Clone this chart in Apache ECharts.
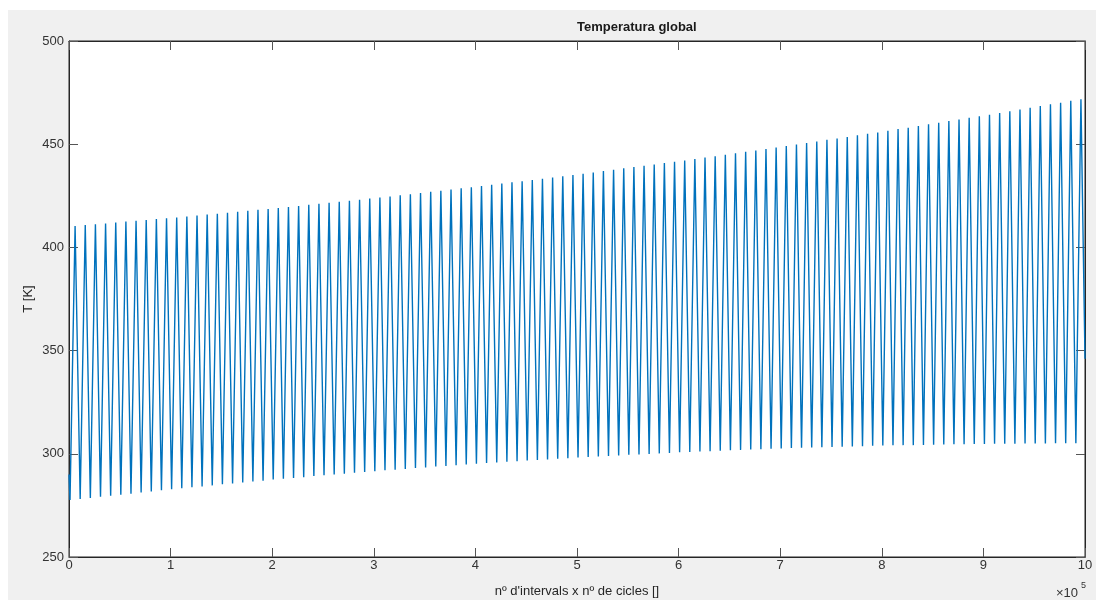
<!DOCTYPE html>
<html>
<head>
<meta charset="utf-8">
<title>Temperatura global</title>
<script src="https://cdn.jsdelivr.net/npm/echarts@6/dist/echarts.min.js"></script>
<style>
	html, body { margin: 0; padding: 0; background: #fff; }
	#wrap { position: relative; width: 1096px; height: 600px; overflow: hidden; }
	#fig { position: absolute; left: 8px; top: 10px; right: 0; bottom: 0; background: #f0f0f0; }
	#chartContainer { position: absolute; left: 0; top: 0; width: 1096px; height: 600px; }
</style>
</head>
<body>
<div id="wrap">
	<div id="fig"></div>
	<div id="chartContainer"></div>
</div>
<script>
// valors llegits de la figura (temperatura en K)
const period = 10000;        // mostres per cicle
const troughOffset = 1000;   // primer mínim
const peakOffset = 6000;     // primer màxim
const startValue = 290;
const endValue = 346;

// mínims de cada cicle
const troughs = [
	277.6, 278.1, 278.6, 279.2, 279.7, 280.2, 280.7, 281.3, 281.8, 282.3,
	282.8, 283.3, 283.8, 284.2, 284.7, 285.2, 285.6, 286.1, 286.6, 287.0,
	287.5, 287.9, 288.3, 288.7, 289.2, 289.6, 290.0, 290.4, 290.8, 291.2,
	291.6, 292.0, 292.3, 292.7, 293.1, 293.4, 293.8, 294.1, 294.5, 294.8,
	295.2, 295.5, 295.8, 296.1, 296.4, 296.7, 297.0, 297.3, 297.6, 297.9,
	298.2, 298.5, 298.7, 299.0, 299.2, 299.5, 299.7, 299.9, 300.2, 300.4,
	300.7, 300.9, 301.1, 301.3, 301.5, 301.7, 301.9, 302.1, 302.2, 302.4,
	302.6, 302.8, 302.9, 303.0, 303.2, 303.3, 303.4, 303.6, 303.7, 303.9,
	304.0, 304.1, 304.2, 304.2, 304.3, 304.4, 304.5, 304.6, 304.6, 304.7,
	304.8, 304.9, 304.9, 304.9, 305.0, 305.0, 305.0, 305.1, 305.1, 305.1
];

// màxims de cada cicle
const peaks = [
	410.4, 410.8, 411.2, 411.6, 412.0, 412.5, 412.9, 413.3, 413.7, 414.1,
	414.5, 415.0, 415.4, 415.9, 416.3, 416.8, 417.3, 417.7, 418.2, 418.6,
	419.1, 419.6, 420.1, 420.6, 421.1, 421.6, 422.1, 422.6, 423.1, 423.7,
	424.2, 424.7, 425.3, 425.8, 426.4, 426.9, 427.5, 428.0, 428.6, 429.1,
	429.7, 430.3, 430.9, 431.5, 432.1, 432.7, 433.3, 433.9, 434.5, 435.1,
	435.7, 436.3, 437.0, 437.6, 438.3, 438.9, 439.6, 440.2, 440.9, 441.5,
	442.1, 442.8, 443.5, 444.2, 444.9, 445.6, 446.3, 447.0, 447.7, 448.4,
	449.1, 449.8, 450.6, 451.3, 452.1, 452.8, 453.5, 454.3, 455.0, 455.7,
	456.5, 457.3, 458.0, 458.8, 459.6, 460.4, 461.2, 462.0, 462.8, 463.5,
	464.3, 465.1, 466.0, 466.8, 467.6, 468.5, 469.3, 470.1, 471.0, 471.8
];

const xTicks = ['0', '1', '2', '3', '4', '5', '6', '7', '8', '9', '10'];

const data = [[0, startValue]];
for (let k = 0; k < troughs.length; k++) {
	data.push([troughOffset + k * period, troughs[k]]);
	data.push([peakOffset + k * period, peaks[k]]);
}
data.push([1000000, endValue]);

const font = '"Liberation Sans", Arial, Helvetica, sans-serif';
const axisColor = '#262626';

const chart = echarts.init(document.getElementById('chartContainer'), null, { renderer: 'canvas' });

// cada eix vol el seu propi objecte
function ticks() {
	return { show: true, inside: true, length: 9, lineStyle: { color: '#555', width: 1 } };
}

const option = {
	animation: false,
	backgroundColor: 'transparent',
	grid: {
		left: 69, top: 41, width: 1016, height: 516,
		outerBoundsMode: 'none', containLabel: false,
		show: true, backgroundColor: '#fff', borderColor: axisColor, borderWidth: 1
	},
	graphic: [
		{
			type: 'text', left: 577, top: 21,
			style: { text: 'Temperatura global', font: 'bold 13px ' + font, fill: '#1a1a1a', textAlign: 'center' }
		},
		{
			// etiqueta de l'eix Y
			type: 'text', x: 28, y: 299, rotation: Math.PI / 2,
			style: { text: 'T [K]', font: '13px ' + font, fill: axisColor, textAlign: 'center', textVerticalAlign: 'middle' }
		},
		{
			type: 'text', left: 1056, top: 587,
			style: { text: '×10', font: '13px ' + font, fill: '#333' }
		},
		{
			type: 'text', left: 1081, top: 581,
			style: { text: '5', font: '9px ' + font, fill: '#333' }
		}
	],
	xAxis: [{
		type: 'value', position: 'bottom', min: 0, max: 1000000, interval: 100000,
		name: "nº d'intervals x nº de cicles []", nameLocation: 'middle', nameGap: 28,
		nameMoveOverlap: false,
		nameTextStyle: { fontFamily: font, fontSize: 13, color: axisColor },
		axisLine: { show: true, onZero: false, lineStyle: { color: axisColor } },
		axisTick: ticks(),
		splitLine: { show: false },
		axisLabel: {
			margin: 2, fontFamily: font, fontSize: 13, color: '#333',
			formatter: (v) => xTicks[Math.round(v / 100000)]
		}
	}, {
		type: 'value', position: 'top', min: 0, max: 1000000, interval: 100000,
		axisLine: { show: true, onZero: false, lineStyle: { color: axisColor } },
		axisTick: ticks(), axisLabel: { show: false }, splitLine: { show: false }
	}],
	yAxis: [{
		type: 'value', position: 'left', min: 250, max: 500, interval: 50,
		axisLine: { show: true, onZero: false, lineStyle: { color: axisColor } },
		axisTick: ticks(),
		splitLine: { show: false },
		axisLabel: { margin: 5, fontFamily: font, fontSize: 13, color: '#333' }
	}, {
		type: 'value', position: 'right', min: 250, max: 500, interval: 50,
		axisLine: { show: true, onZero: false, lineStyle: { color: axisColor } },
		axisTick: ticks(), axisLabel: { show: false }, splitLine: { show: false }
	}],
	series: [{
		name: 'T',
		type: 'line',
		data: data,
		showSymbol: false,
		symbol: 'none',
		lineStyle: { color: '#0072BD', width: 1.4 },
		emphasis: { disabled: true }
	}]
};

chart.setOption(option);
</script>
</body>
</html>
